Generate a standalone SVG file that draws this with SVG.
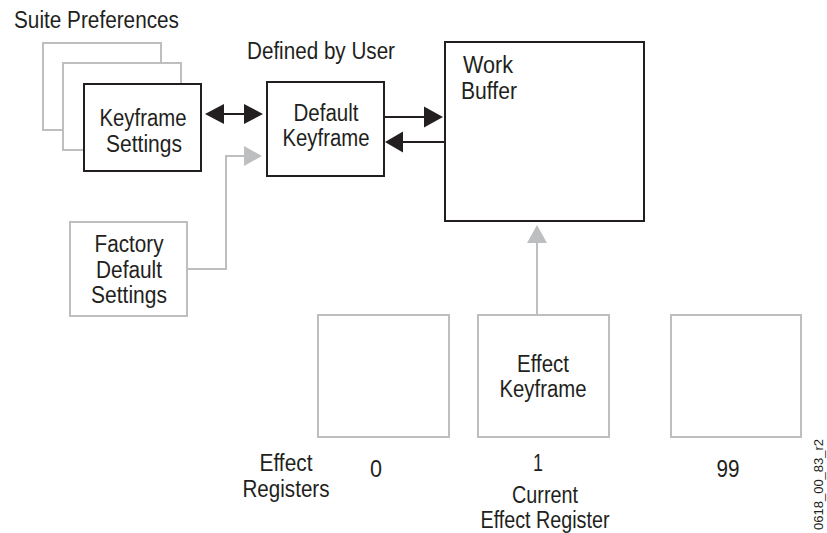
<svg xmlns="http://www.w3.org/2000/svg" width="827" height="533" viewBox="0 0 827 533">
<style>
  .t { font-family: "Liberation Sans", Arial, sans-serif; font-size: 23px; fill: #231f20; }
  .c { text-anchor: middle; }
  .blk { fill: #ffffff; stroke: #231f20; stroke-width: 2; }
  .gry { fill: #ffffff; stroke: #bcbec0; stroke-width: 2; }
  .lb { fill: none; stroke: #231f20; stroke-width: 2; }
  .lg { fill: none; stroke: #bcbec0; stroke-width: 2; }
  .hb { fill: #231f20; }
  .hg { fill: #bcbec0; }
  .small { font-family: "Liberation Sans", Arial, sans-serif; font-size: 13px; fill: #231f20; }
</style>
<rect width="827" height="533" fill="#ffffff"/>

<text class="t" x="14" y="28" textLength="165" lengthAdjust="spacingAndGlyphs">Suite Preferences</text>
<text class="t" x="247" y="59" textLength="148" lengthAdjust="spacingAndGlyphs">Defined by User</text>

<g id="suite-pref-back2">
  <rect class="gry" x="43" y="43" width="118" height="87"/>
</g>
<g id="suite-pref-back1">
  <rect class="gry" x="63" y="63" width="118" height="87"/>
</g>
<g id="keyframe-settings">
  <rect class="blk" x="84" y="84" width="117" height="87"/>
  <text class="t c" x="143" y="126" textLength="87" lengthAdjust="spacingAndGlyphs">Keyframe</text>
  <text class="t c" x="144" y="152" textLength="76" lengthAdjust="spacingAndGlyphs">Settings</text>
</g>
<g id="default-keyframe">
  <rect class="blk" x="267" y="82" width="117" height="94"/>
  <text class="t c" x="326" y="121" textLength="65" lengthAdjust="spacingAndGlyphs">Default</text>
  <text class="t c" x="326" y="146" textLength="87" lengthAdjust="spacingAndGlyphs">Keyframe</text>
</g>
<g id="work-buffer">
  <rect class="blk" x="445" y="42" width="199" height="179"/>
  <text class="t" x="463" y="73" textLength="50" lengthAdjust="spacingAndGlyphs">Work</text>
  <text class="t" x="461" y="99" textLength="56" lengthAdjust="spacingAndGlyphs">Buffer</text>
</g>
<g id="factory-default">
  <rect class="gry" x="70" y="222" width="117" height="94"/>
  <text class="t c" x="129" y="252" textLength="69" lengthAdjust="spacingAndGlyphs">Factory</text>
  <text class="t c" x="129" y="278" textLength="66" lengthAdjust="spacingAndGlyphs">Default</text>
  <text class="t c" x="129" y="303" textLength="76" lengthAdjust="spacingAndGlyphs">Settings</text>
</g>
<g id="register-0">
  <rect class="gry" x="318" y="315" width="131" height="122"/>
  <text class="t c" x="376" y="477" textLength="12" lengthAdjust="spacingAndGlyphs">0</text>
</g>
<g id="register-1">
  <rect class="gry" x="478" y="315" width="131" height="122"/>
  <text class="t c" x="543" y="372" textLength="52" lengthAdjust="spacingAndGlyphs">Effect</text>
  <text class="t c" x="543" y="397" textLength="87" lengthAdjust="spacingAndGlyphs">Keyframe</text>
  <text class="t c" x="538" y="471" textLength="10" lengthAdjust="spacingAndGlyphs">1</text>
  <text class="t c" x="545" y="503" textLength="66" lengthAdjust="spacingAndGlyphs">Current</text>
  <text class="t c" x="545" y="528" textLength="129" lengthAdjust="spacingAndGlyphs">Effect Register</text>
</g>
<g id="register-99">
  <rect class="gry" x="671" y="315" width="130" height="122"/>
  <text class="t c" x="728" y="477" textLength="23" lengthAdjust="spacingAndGlyphs">99</text>
</g>
<g id="effect-registers-label">
  <text class="t c" x="286" y="471" textLength="53" lengthAdjust="spacingAndGlyphs">Effect</text>
  <text class="t c" x="286" y="497" textLength="87" lengthAdjust="spacingAndGlyphs">Registers</text>
</g>

<g id="connectors">
  <!-- Keyframe Settings <-> Default Keyframe -->
  <line class="lb" x1="222" y1="114" x2="246" y2="114"/>
  <polygon class="hb" points="205,114 224,104 224,124"/>
  <polygon class="hb" points="263,114 244,104 244,124"/>
  <!-- Default Keyframe -> Work Buffer -->
  <line class="lb" x1="384" y1="117" x2="426" y2="117"/>
  <polygon class="hb" points="443,117 424,106.5 424,127.5"/>
  <!-- Work Buffer -> Default Keyframe -->
  <line class="lb" x1="445" y1="142" x2="400" y2="142"/>
  <polygon class="hb" points="385,142 403,131.5 403,152.5"/>
  <!-- Factory -> Default Keyframe -->
  <polyline class="lg" points="187,269 226,269 226,156 246,156"/>
  <polygon class="hg" points="262,156 244,146 244,166"/>
  <!-- Effect register 1 -> Work Buffer -->
  <line class="lg" x1="537" y1="315" x2="537" y2="241"/>
  <polygon class="hg" points="537,225 527,243 547,243"/>
</g>

<text class="small" transform="translate(823,530) rotate(-90)">0618_00_83_r2</text>
</svg>
